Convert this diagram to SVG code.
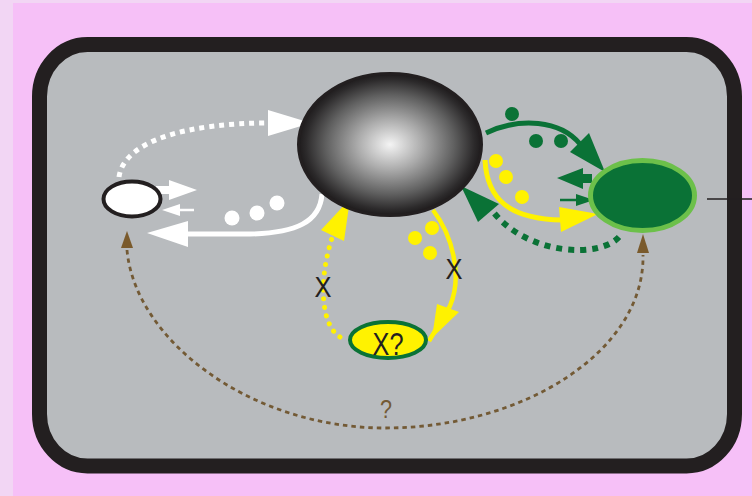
<svg xmlns="http://www.w3.org/2000/svg" width="752" height="496" viewBox="0 0 752 496">
  <defs>
    <radialGradient id="sphereGrad" cx="0.5" cy="0.5" r="0.5">
      <stop offset="0" stop-color="#f4f4f4"/>
      <stop offset="0.35" stop-color="#acacac"/>
      <stop offset="0.7" stop-color="#606060"/>
      <stop offset="0.92" stop-color="#2c2a2b"/>
      <stop offset="1" stop-color="#1e1b1c"/>
    </radialGradient>
  </defs>
  <style>
    .white { fill: none; stroke: #ffffff; }
    .green { fill: none; stroke: #0a7236; }
    .yellow { fill: none; stroke: #fff200; }
    .brown { fill: none; stroke: #735a35; stroke-width: 2.8; stroke-dasharray: 4.5 4; }
    .brownhead { fill: #7a5a2c; }
    .lbl { font-family: "Liberation Sans", Arial, sans-serif; fill: #231f20; text-anchor: middle; }
  </style>

  <!-- background -->
  <rect x="0" y="0" width="752" height="496" fill="#f6c0f7"/>
  <rect x="0" y="0" width="13" height="496" fill="#f2d6f4"/>
  <rect x="0" y="0" width="752" height="3" fill="#f2d6f4"/>

  <!-- cell -->
  <g id="cell">
    <rect x="39.5" y="44.5" width="695" height="421.5" rx="48" ry="52" fill="#b8bbbe" stroke="#231f20" stroke-width="15"/>
    <line x1="707" y1="199" x2="752" y2="199" stroke="#231f20" stroke-width="1.5"/>
  </g>

  <!-- connectors -->
  <g id="connectors">
    <!-- white dotted arc to sphere -->
    <path class="white" d="M119,177 C124,140 190,123 268,123" stroke-width="5" stroke-dasharray="5 5"/>
    <path d="M268,110 L311,123 L268,136 Z" fill="#ffffff"/>
    <!-- white return arrow -->
    <path class="white" d="M322,194 C320,222 296,233 250,234 L185,234" stroke-width="5"/>
    <path d="M188,221 L147,233 L188,247 Z" fill="#ffffff"/>
    <circle cx="232" cy="218" r="7.5" fill="#ffffff"/>
    <circle cx="257" cy="213" r="7.5" fill="#ffffff"/>
    <circle cx="277" cy="203" r="7.5" fill="#ffffff"/>
    <!-- small white arrows at left node -->
    <path d="M156,186 L169,186 L169,180 L197,190 L169,200 L169,194 L156,194 Z" fill="#ffffff"/>
    <line x1="176" y1="210" x2="194" y2="210" stroke="#ffffff" stroke-width="2.5"/>
    <path d="M180,204 L162,210 L180,216 Z" fill="#ffffff"/>

    <!-- green solid arc to green node -->
    <path class="green" d="M486,133 C520,117 560,120 580,144" stroke-width="5"/>
    <path d="M570,152 L605,172 L589,133 Z" fill="#0a7236"/>
    <circle cx="512" cy="114" r="7" fill="#0a7236"/>
    <circle cx="536" cy="141" r="7" fill="#0a7236"/>
    <circle cx="561" cy="141" r="7" fill="#0a7236"/>
    <!-- green arrows at green node -->
    <path d="M592,174 L583,174 L583,168 L557,178 L583,189 L583,183 L592,183 Z" fill="#0a7236"/>
    <line x1="560" y1="200" x2="580" y2="200" stroke="#0a7236" stroke-width="2.5"/>
    <path d="M576,194 L594,200 L576,206 Z" fill="#0a7236"/>
    <!-- green dotted return -->
    <path class="green" d="M619,237 C600,258 530,256 494,213" stroke-width="6" stroke-dasharray="6 6"/>
    <path d="M478,222 L461,186 L499,204 Z" fill="#0a7236"/>

    <!-- yellow arrow to green node -->
    <path class="yellow" d="M485,160 C487,200 510,219 562,220" stroke-width="5"/>
    <path d="M559,207 L598,214 L561,232 Z" fill="#fff200"/>
    <circle cx="496" cy="161" r="7" fill="#fff200"/>
    <circle cx="506" cy="177" r="7" fill="#fff200"/>
    <circle cx="522" cy="197" r="7" fill="#fff200"/>

    <!-- yellow arrow down to X? -->
    <path class="yellow" d="M433,210 C452,235 463,275 450,306 L429,341" stroke-width="4.5"/>
    <path d="M437,304 L459,312 L432,338 Z" fill="#fff200"/>
    <circle cx="415" cy="238" r="7" fill="#fff200"/>
    <circle cx="432" cy="228" r="7" fill="#fff200"/>
    <circle cx="430" cy="253" r="7" fill="#fff200"/>

    <!-- yellow dotted back to sphere -->
    <path class="yellow" d="M340,337 C321,325 318,282 332,238" stroke-width="5" stroke-linecap="round" stroke-dasharray="0.1 8.5"/>
    <path d="M321,230 L350,199 L344,241 Z" fill="#fff200"/>

    <!-- brown dashed link between the two side nodes -->
    <path class="brown" d="M127,250 C135,340 250,428 385,428 C525,428 645,350 643,255"/>
    <path class="brownhead" d="M121,248 L127,231 L133,248 Z"/>
    <path class="brownhead" d="M637,253 L643,234 L649,253 Z"/>
  </g>

  <!-- nodes -->
  <g id="node-left">
    <ellipse cx="132" cy="199" rx="28.5" ry="17.5" fill="#ffffff" stroke="#231f20" stroke-width="4"/>
  </g>

  <g id="node-sphere">
    <ellipse cx="390" cy="144.5" rx="91.5" ry="71" fill="url(#sphereGrad)" stroke="#231f20" stroke-width="3"/>
  </g>

  <g id="node-green">
    <ellipse cx="642.5" cy="195.5" rx="52" ry="35" fill="#0a7236" stroke="#6cc04a" stroke-width="5"/>
  </g>

  <g id="node-x">
    <ellipse cx="388" cy="340" rx="38" ry="18" fill="#fff200" stroke="#0a7236" stroke-width="4"/>
    <text class="lbl" x="388" y="355" font-size="32" textLength="31" lengthAdjust="spacingAndGlyphs">X?</text>
  </g>

  <!-- labels -->
  <g id="labels">
    <text class="lbl" x="454" y="279" font-size="30" textLength="17" lengthAdjust="spacingAndGlyphs">X</text>
    <text class="lbl" x="323" y="297" font-size="30" textLength="17" lengthAdjust="spacingAndGlyphs">X</text>
    <text class="lbl" x="386" y="418" font-size="26" textLength="12" lengthAdjust="spacingAndGlyphs" style="fill:#735a35">?</text>
  </g>
</svg>
